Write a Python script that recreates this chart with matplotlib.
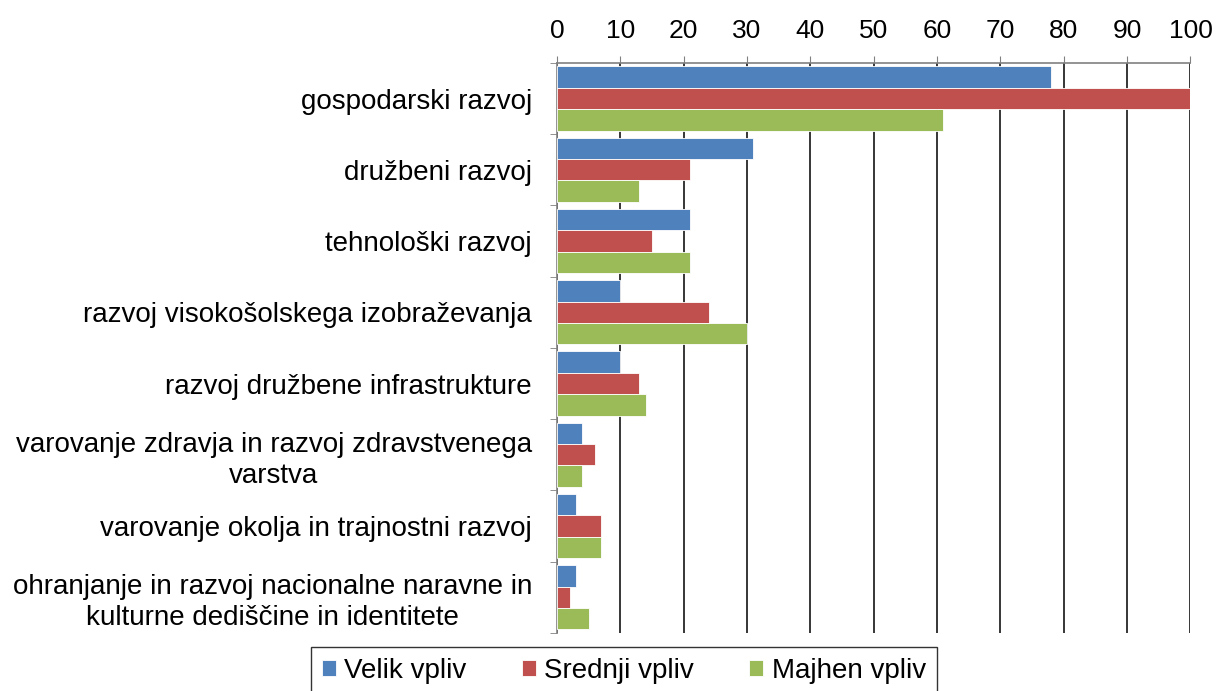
import numpy as np
import matplotlib.pyplot as plt

plt.rcParams['font.family'] = ['Liberation Sans', 'DejaVu Sans']

categories = [
    "gospodarski razvoj",
    "družbeni razvoj",
    "tehnološki razvoj",
    "razvoj visokošolskega izobraževanja",
    "razvoj družbene infrastrukture",
    "varovanje zdravja in razvoj zdravstvenega\nvarstva",
    "varovanje okolja in trajnostni razvoj",
    "ohranjanje in razvoj nacionalne naravne in\nkulturne dediščine in identitete",
]
velik = [78, 31, 21, 10, 10, 4, 3, 3]
srednji = [100, 21, 15, 24, 13, 6, 7, 2]
majhen = [61, 13, 21, 30, 14, 4, 7, 5]
series_names = ["Velik vpliv", "Srednji vpliv", "Majhen vpliv"]
colors = ["#4F81BD", "#C0504D", "#9BBB59"]

fig = plt.figure(figsize=(12.16, 6.91), dpi=100)
ax = fig.add_axes([0.458, 0.084, 0.521, 0.825])

y = np.arange(len(categories))
h = 0.30
for i, (vals, name, c) in enumerate(zip([velik, srednji, majhen], series_names, colors)):
    ax.barh(y + (i - 1) * h, vals, height=h, color=c, edgecolor="white",
            linewidth=0.6, label=name, zorder=3)

ax.set_xlim(0, 100)
ax.set_ylim(len(categories) - 0.5, -0.5)
ax.xaxis.tick_top()
ax.set_xticks(range(0, 101, 10))
ax.tick_params(axis="x", labelsize=19, length=5, color="#808080", pad=9)
ax.grid(axis="x", color="black", linewidth=1.1, zorder=1)

ax.set_yticks(y)
ax.set_yticklabels(categories, fontsize=20, ha="right", multialignment="center",
                   linespacing=1.25)
ax.tick_params(axis="y", length=0, pad=18)
ax.set_yticks(np.arange(-0.5, len(categories)), minor=True)
ax.tick_params(axis="y", which="minor", length=5, color="#808080")

for s in ["right", "bottom"]:
    ax.spines[s].set_visible(False)
for s in ["top", "left"]:
    ax.spines[s].set_color("#808080")
    ax.spines[s].set_linewidth(1.2)

# legend box runs past the bottom edge like in the original
fig.legend(loc="upper center", bbox_to_anchor=(0.513, 0.064), ncol=3,
           fontsize=20, frameon=True, fancybox=False, edgecolor="black",
           handlelength=0.5, handleheight=0.5, handletextpad=0.3,
           columnspacing=2.0, borderpad=0.4, borderaxespad=0)

fig.savefig("out.png", dpi=100)
